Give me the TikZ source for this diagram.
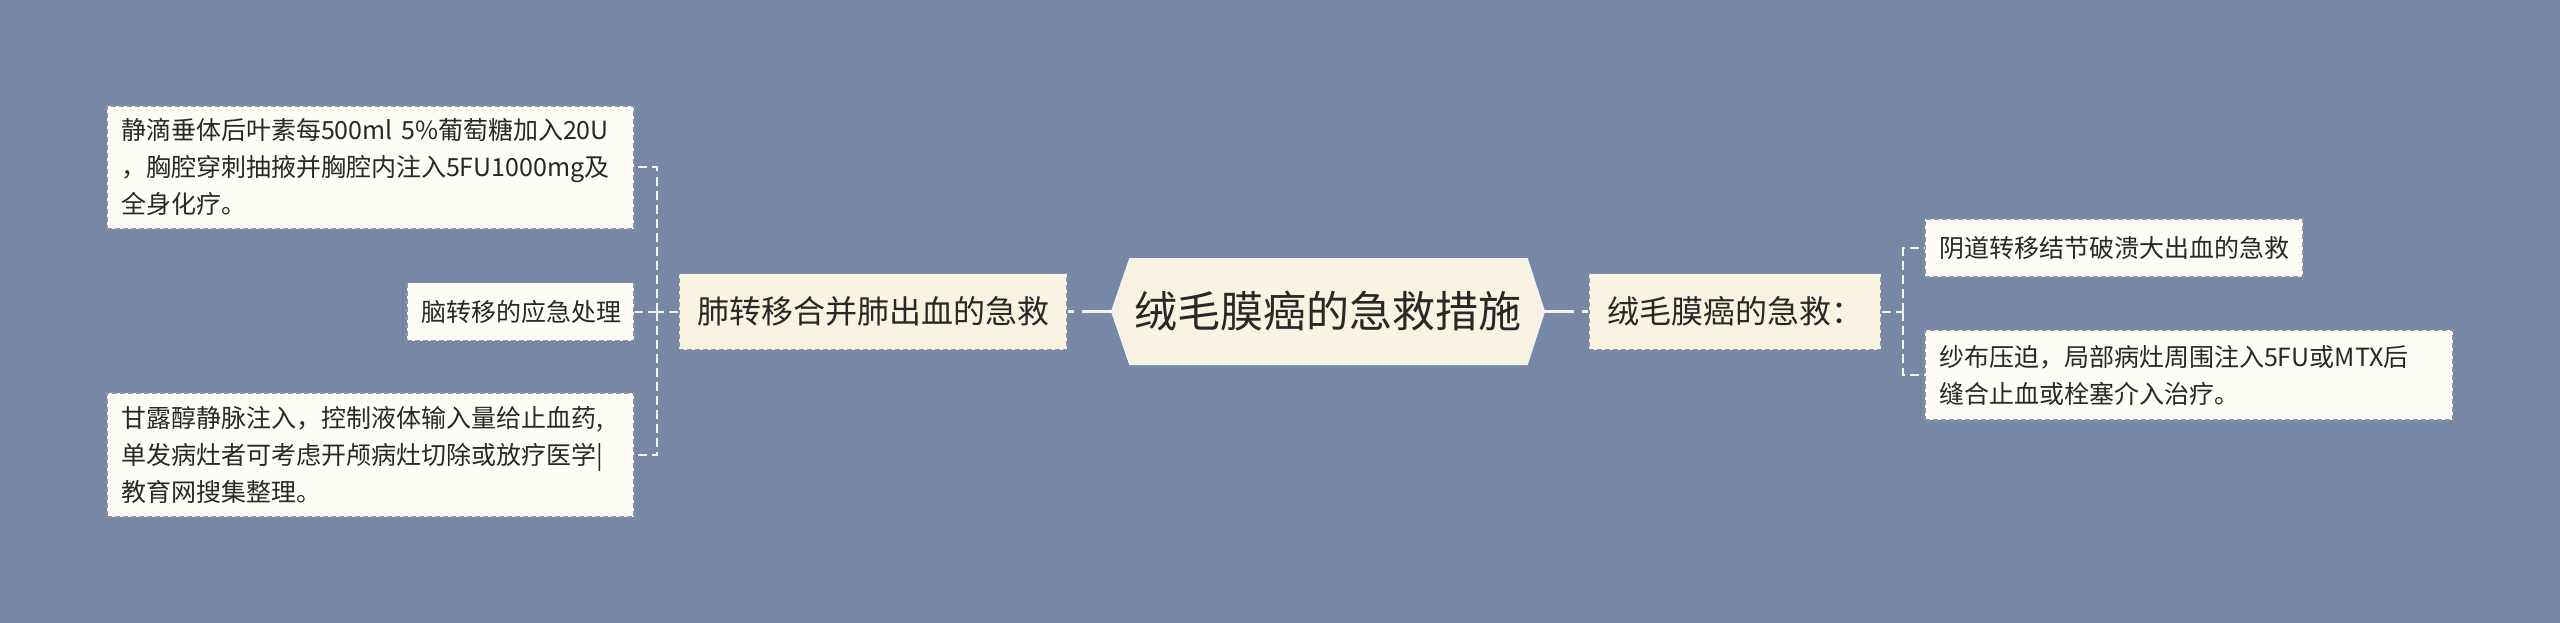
\documentclass[tikz,border=0pt]{standalone}
\usepackage{fontspec}
\newfontfamily\cjk{Noto Sans CJK SC}
\definecolor{bgcol}{RGB}{119,135,166}
\definecolor{leaffill}{RGB}{253,253,246}
\definecolor{midfill}{RGB}{248,244,225}
\definecolor{bordercol}{RGB}{140,147,163}
\definecolor{textcol}{RGB}{40,40,40}
\definecolor{linecol}{RGB}{242,242,238}
\tikzset{
  leaf/.style={draw=bordercol, line width=1.5pt, dash pattern=on 5pt off 3pt, fill=leaffill,
    text=textcol, font=\cjk\fontsize{25}{37}\selectfont, inner xsep=14pt, inner ysep=0pt,
    align=left, anchor=center},
  mid/.style={draw=bordercol, line width=1.5pt, dash pattern=on 5pt off 3pt, fill=midfill,
    text=textcol, font=\cjk\fontsize{32}{40}\selectfont, inner xsep=18pt, inner ysep=0pt,
    align=left, anchor=center},
  hexstyle/.style={draw=linecol, line width=2pt, fill=midfill},
  roottext/.style={text=textcol, font=\cjk\fontsize{43}{50}\selectfont, inner sep=0pt},
  conn/.style={draw=linecol, line width=2pt, dash pattern=on 9pt off 5pt},
  mainconn/.style={draw=linecol, line width=3pt, dash pattern=on 30pt off 8pt}
}
\begin{document}
\begin{tikzpicture}[x=1pt,y=-1pt]
\fill[bgcol] (0,0) rectangle (2560,623);
\useasboundingbox (0,0) rectangle (2560,623);
% root hexagon
\coordinate (hexL) at (1112,311.5);
\coordinate (hexR) at (1544,311.5);
\filldraw[hexstyle] (hexL) -- (1130,259) -- (1527,259) -- (hexR) -- (1527,364) -- (1130,364) -- cycle;
\node[roottext] (root) at (1328,311.5) {绒毛膜癌的急救措施};
% level 1
\node[mid, text width=352pt, minimum height=76pt] (fei) at (873,311.5) {肺转移合并肺出血的急救};
\node[mid, text width=256pt, minimum height=76pt] (rong) at (1735,311.5) {绒毛膜癌的急救：};
% left leaves
\node[leaf, text width=499pt, minimum height=123pt] (b1) at (370.5,167.5)
  {静滴垂体后叶素每500ml 5\%葡萄糖加入20U\\，胸腔穿刺抽掖并胸腔内注入5FU1000mg及\\全身化疗。};
\node[leaf, text width=199pt, minimum height=58pt] (nao) at (520.5,311.5) {脑转移的应急处理};
\node[leaf, text width=499pt, minimum height=124pt] (b3) at (370.5,455)
  {甘露醇静脉注入，控制液体输入量给止血药,\\单发病灶者可考虑开颅病灶切除或放疗医学|\\教育网搜集整理。};
% right leaves
\node[leaf, text width=350pt, minimum height=58pt] (yin) at (2114,248) {阴道转移结节破溃大出血的急救};
\node[leaf, text width=500pt, minimum height=90pt] (sha) at (2189,375)
  {纱布压迫，局部病灶周围注入5FU或MTX后\\缝合止血或栓塞介入治疗。};
% connectors
\draw[mainconn] (hexL) -- (fei.east);
\draw[mainconn] (hexR) -- (rong.west);
\coordinate (lv) at (657,311.5);
\coordinate (rv) at (1903,311.5);
\draw[conn] (fei.west) -- (lv);
\draw[conn] (lv) -- (nao.east);
\draw[conn] (lv) |- (b1.east);
\draw[conn] (lv) |- (b3.east);
\draw[conn] (rong.east) -- (rv);
\draw[conn] (rv) |- (yin.west);
\draw[conn] (rv) |- (sha.west);
\end{tikzpicture}
\end{document}
